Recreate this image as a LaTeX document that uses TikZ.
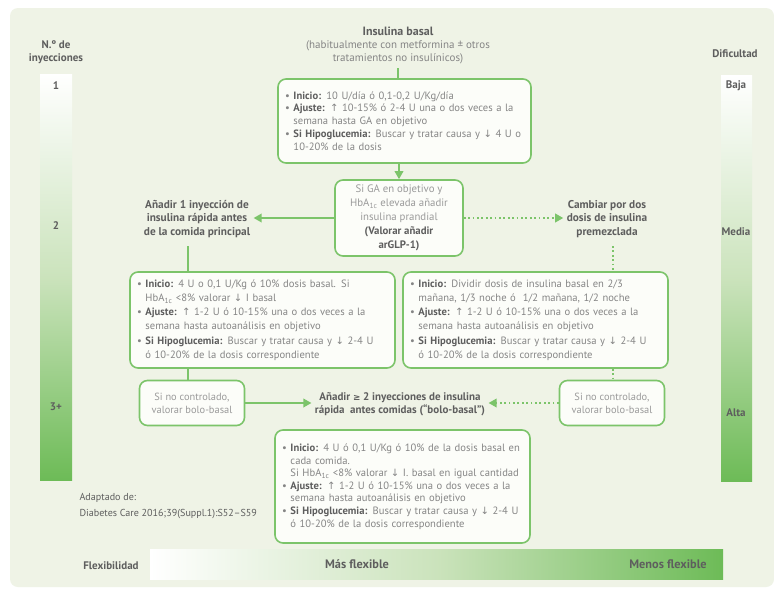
\documentclass[tikz,border=0pt]{standalone}
\usepackage{fontspec}
\setmainfont{PT Sans}
\newfontfamily\symf{DejaVu Sans}
\usetikzlibrary{arrows.meta}
\definecolor{bg}{HTML}{EFF3E6}
\definecolor{boxfill}{HTML}{FCFDF9}
\definecolor{gline}{HTML}{7CC46A}
\definecolor{gbar}{HTML}{6DBB57}
\definecolor{gmid}{HTML}{CBE3BC}
\definecolor{txt}{HTML}{858585}
\definecolor{lbl}{HTML}{5E5E5E}
\definecolor{pale}{HTML}{9A9A9A}
\newcommand{\arrup}{{\symf\scalebox{0.95}{↑}}}
\newcommand{\arrdn}{{\symf\scalebox{0.95}{↓}}}
\newcommand{\gesym}{{\symf\scalebox{0.8}{≥}}}
\newcommand{\bul}{\makebox[0.8em][l]{•}}
\newcommand{\ind}{\hspace*{0.8em}}
\newcommand{\hba}{HbA\textsubscript{1c}}
\newcommand{\lab}[1]{{\bfseries\color{lbl}#1}}
\begin{document}
\begin{tikzpicture}[x=1pt,y=-1pt,
  box/.style={draw=gline, line width=1.6pt, rounded corners=8pt, fill=boxfill,
    inner xsep=7pt, inner ysep=0pt, align=left, text=txt, font=\fontsize{10.6}{12.8}\selectfont},
  note/.style={draw=gline, line width=1.6pt, rounded corners=8pt, fill=boxfill,
    inner sep=0pt, align=center, text=pale, font=\fontsize{10.4}{13}\selectfont},
  head/.style={align=center, text=lbl, font=\fontsize{11.3}{13.6}\selectfont\bfseries},
  link/.style={gline, line width=1.8pt},
  arr/.style={link, -{Triangle[length=8pt,width=8.5pt]}},
  dots/.style={gline, line width=1.8pt, dash pattern=on 1.8pt off 2.6pt},
  darr/.style={dots, -{Triangle[length=8pt,width=8.5pt]}},
  barlab/.style={text=lbl, font=\fontsize{11}{12}\selectfont\bfseries}]
\useasboundingbox (0,0) rectangle (774,589);
\fill[white] (0,0) rectangle (774,589);
\fill[bg, rounded corners=8pt] (10,8) rectangle (774,587);

% scales: number of injections, difficulty, flexibility
\shade[top color=white, bottom color=gbar, middle color=gmid] (40,74) rectangle (72,480);
\shade[top color=white, bottom color=gbar, middle color=gmid] (721,75) rectangle (752,481);
\shade[left color=white, right color=gbar, middle color=gmid] (150,549) rectangle (723,579);
\node[head, font=\fontsize{11}{13}\selectfont\bfseries] (ninj) at (56,52) {N.º de\\inyecciones};
\node[barlab] (n1) at (56,86) {1};
\node[barlab] (n2) at (56,226) {2};
\node[barlab] (n3) at (56,407) {3+};
\node[barlab] (dif) at (735,54) {Dificultad};
\node[barlab] (baja) at (736,86) {Baja};
\node[barlab] (media) at (736,232) {Media};
\node[barlab] (alta) at (736,413) {Alta};
\node[barlab] (flex) at (111,566) {Flexibilidad};
\node[barlab, font=\fontsize{12.3}{13}\selectfont\bfseries] (masf) at (357,564) {Más flexible};
\node[barlab, font=\fontsize{12.3}{13}\selectfont\bfseries] (menf) at (668,564) {Menos flexible};

% source
\node[align=left, anchor=west, text=lbl, font=\fontsize{10.1}{15.5}\selectfont] (src) at (76,506)
  {Adaptado de:\\Diabetes Care 2016;39(Suppl.1):S52–S59};

% title
\node[align=center, text=txt, font=\fontsize{11}{13}\selectfont] (title) at (398,45)
  {{\fontsize{12}{13}\selectfont\bfseries\color{lbl}Insulina basal}\\(habitualmente con metformina ± otros\\tratamientos no insulínicos)};

% first step
\node[box, text width=239pt, minimum height=84pt] (top) at (404.5,121) {%
\bul\lab{Inicio:} 10 U/día ó 0,1-0,2 U/Kg/día\\
\bul\lab{Ajuste:} \arrup{} 10-15\% ó 2-4 U una o dos veces a la\\
\ind semana hasta GA en objetivo\\
\bul\lab{Si Hipoglucemia:} Buscar y tratar causa y \arrdn{} 4 U o\\
\ind 10-20\% de la dosis};

\node[note, minimum width=128pt, minimum height=76pt, font=\fontsize{10.8}{14}\selectfont] (ga) at (399,218)
  {Si GA en objetivo y\\\hba{} elevada añadir\\insulina prandial\\{\bfseries\color{lbl}(Valorar añadir}\\{\bfseries\color{lbl}arGLP-1)}};

\node[head] (addone) at (197,219) {Añadir 1 inyección de\\insulina rápida antes\\de la comida principal};
\node[head] (premix) at (607,219) {Cambiar por dos\\dosis de insulina\\premezclada};

% second step
\node[box, text width=251pt, minimum height=96pt, font=\fontsize{10.6}{14.2}\selectfont] (lmid) at (262.5,320) {%
\bul\lab{Inicio:} 4 U o 0,1 U/Kg ó 10\% dosis basal. Si\\
\ind\hba{} <8\% valorar \arrdn{} I basal\\
\bul\lab{Ajuste:} \arrup{} 1-2 U ó 10-15\% una o dos veces a la\\
\ind semana hasta autoanálisis en objetivo\\
\bul\lab{Si Hipoglucemia:} Buscar y tratar causa y \arrdn{} 2-4 U\\
\ind ó 10-20\% de la dosis correspondiente};

\node[box, text width=251pt, minimum height=96pt, font=\fontsize{10.6}{14.2}\selectfont] (rmid) at (535.5,320) {%
\bul\lab{Inicio:} Dividir dosis de insulina basal en 2/3\\
\ind mañana, 1/3 noche ó \ 1/2 mañana, 1/2 noche\\
\bul\lab{Ajuste:} \arrup{} 1-2 U ó 10-15\% una o dos veces a la\\
\ind semana hasta autoanálisis en objetivo\\
\bul\lab{Si Hipoglucemia:} Buscar y tratar causa y \arrdn{} 2-4 U\\
\ind ó 10-20\% de la dosis correspondiente};

% third step
\node[note, minimum width=105pt, minimum height=45pt] (lnc) at (192,403) {Si no controlado,\\valorar bolo-basal};
\node[note, minimum width=105pt, minimum height=45pt] (rnc) at (612,403) {Si no controlado,\\valorar bolo-basal};
\node[head, font=\fontsize{11}{13}\selectfont\bfseries] (bolus) at (400,404)
  {Añadir \gesym{} 2 inyecciones de insulina\\rápida \ antes comidas (“bolo-basal”)};

\node[box, text width=241pt, minimum height=113pt, font=\fontsize{10.6}{12.6}\selectfont] (bot) at (402.5,486.5) {%
\bul\lab{Inicio:} 4 U ó 0,1 U/Kg ó 10\% de la dosis basal en\\
\ind cada comida.\\
\ind Si \hba{} <8\% valorar \arrdn{} I. basal en igual cantidad\\
\bul\lab{Ajuste:} \arrup{} 1-2 U ó 10-15\% una o dos veces a la\\
\ind semana hasta autoanálisis en objetivo\\
\bul\lab{Si Hipoglucemia:} Buscar y tratar causa y \arrdn{} 2-4 U\\
\ind ó 10-20\% de la dosis correspondiente};

% connectors
\coordinate (tin) at (398,68);
\coordinate (lx) at (188,246);
\coordinate (rx) at (613,246);
\draw[link] (tin) -- (tin |- top.north);
\draw[arr] (ga.north |- top.south) -- (ga.north);
\draw[arr] (ga.west) -- (addone.east |- ga.west);
\draw[darr] (ga.east) -- (premix.west |- ga.east);
\draw[link] (lx) -- (lx |- lmid.north);
\draw[dots] (rx) -- (rx |- rmid.north);
\draw[link] (lx |- lmid.south) -- (lx |- lnc.north);
\draw[dots] (rx |- rmid.south) -- (rx |- rnc.north);
\draw[arr] (lnc.east) -- (bolus.west |- lnc.east);
\draw[darr] (rnc.west) -- (bolus.east |- rnc.west);
\end{tikzpicture}
\end{document}
